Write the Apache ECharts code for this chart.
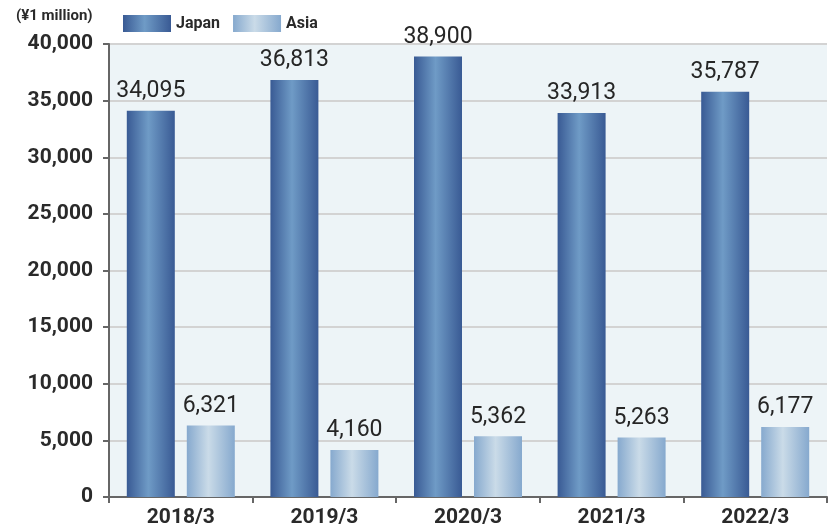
<!DOCTYPE html>
<html>
<head>
<meta charset="utf-8">
<script src="https://cdn.jsdelivr.net/npm/echarts@6/dist/echarts.min.js"></script>
<style>html,body{margin:0;padding:0;background:#fff}#c{width:830px;height:530px}</style>
</head>
<body>
<div id="c"></div>
<script>
var categories = ['2018/3', '2019/3', '2020/3', '2021/3', '2022/3'];
var japan = [34095, 36813, 38900, 33913, 35787];
var asia = [6321, 4160, 5362, 5263, 6177];
var unitLabel = '(¥1 million)';

function grad(edge, mid) {
  return new echarts.graphic.LinearGradient(0, 0, 1, 0, [
    {offset: 0, color: edge},
    {offset: 0.45, color: mid},
    {offset: 1, color: edge}
  ]);
}
var chart = echarts.init(document.getElementById('c'));
var labelStyle = {
  show: true, position: 'top', distance: 8,
  fontFamily: 'Roboto', fontSize: 23, color: '#262626',
  formatter: function (p) { return p.value.toLocaleString('en-US'); }
};
chart.setOption({
  animation: false,
  title: {
    text: unitLabel, left: 11, top: 4,
    textStyle: {fontFamily: 'Roboto', fontSize: 15, fontWeight: 'bold', color: '#2a2a2a'}
  },
  legend: {
    left: 118, top: 10, itemWidth: 48, itemHeight: 17, itemGap: 13,
    icon: 'rect',
    textStyle: {fontFamily: 'Roboto', fontSize: 16, fontWeight: 'bold', color: '#2a2a2a'},
    data: ['Japan', 'Asia']
  },
  grid: {
    left: 109, right: 3, top: 44, bottom: 33,
    show: true, backgroundColor: '#edf4f7', borderWidth: 0
  },
  xAxis: {
    type: 'category', data: categories,
    axisLine: {lineStyle: {color: '#666', width: 2}},
    axisTick: {show: true, length: 6, lineStyle: {color: '#666', width: 2}},
    axisLabel: {fontFamily: 'Roboto', fontSize: 21, fontWeight: 'bold', color: '#2a2a2a', margin: 10}
  },
  yAxis: {
    type: 'value', min: 0, max: 40000, interval: 5000,
    axisLine: {show: true, lineStyle: {color: '#666', width: 2}},
    axisTick: {show: true, length: 6, lineStyle: {color: '#666', width: 2}},
    splitLine: {lineStyle: {color: '#d3d3d3', width: 2}},
    axisLabel: {
      fontFamily: 'Roboto', fontSize: 21, fontWeight: 'bold', color: '#2a2a2a', margin: 16,
      formatter: function (v) { return v.toLocaleString('en-US'); }
    }
  },
  series: [
    {
      name: 'Japan', type: 'bar', data: japan, barWidth: 48, barGap: '25%',
      itemStyle: {color: grad('#395a94', '#6f9bc6')},
      label: labelStyle
    },
    {
      name: 'Asia', type: 'bar', data: asia, barWidth: 48,
      itemStyle: {color: grad('#86a9ce', '#cadbe8')},
      label: labelStyle
    }
  ]
});
</script>
</body>
</html>
